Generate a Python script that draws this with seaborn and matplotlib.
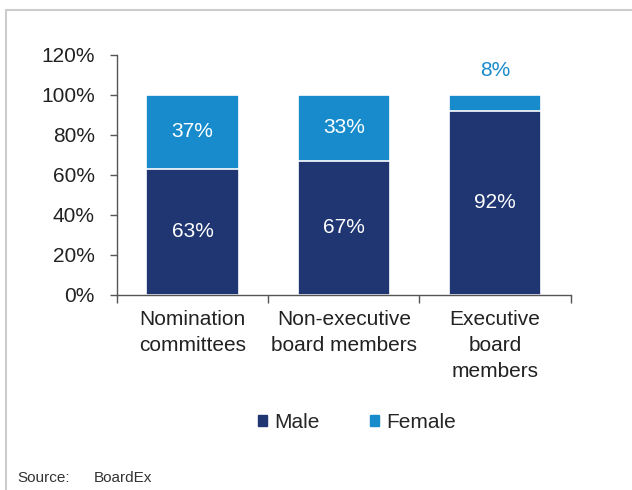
import matplotlib
matplotlib.use("Agg")
import matplotlib.pyplot as plt
import pandas as pd
import seaborn as sns
from matplotlib.lines import Line2D
from matplotlib.patches import Patch
from matplotlib.ticker import FixedLocator, PercentFormatter

categories = ["Nomination\ncommittees", "Non-executive\nboard members", "Executive\nboard\nmembers"]
male = [63, 67, 92]
female = [37, 33, 8]

MALE_COLOR = "#1f3673"
FEMALE_COLOR = "#178bcb"


def plot():
    sns.set_style("white")
    plt.rcParams["font.family"] = ["Liberation Sans", "DejaVu Sans"]

    df = pd.DataFrame({"category": categories, "Male": male, "Female": female})
    df["total"] = df["Male"] + df["Female"]

    fig = plt.figure(figsize=(6.32, 4.90), dpi=100)
    ax = fig.add_axes([0.185, 0.398, 0.718, 0.49])

    sns.barplot(data=df, x="category", y="total", color=FEMALE_COLOR, width=0.61,
                edgecolor="white", linewidth=1.2, saturation=1, ax=ax)
    sns.barplot(data=df, x="category", y="Male", color=MALE_COLOR, width=0.61,
                edgecolor="white", linewidth=1.2, saturation=1, ax=ax)

    ax.set_ylim(0, 120)
    ax.set_xlim(-0.5, 2.5)
    ax.set_yticks(range(0, 121, 20))
    ax.yaxis.set_major_formatter(PercentFormatter(decimals=0))
    ax.set_xlabel("")
    ax.set_ylabel("")

    # labels
    for i, (m, f) in enumerate(zip(male, female)):
        ax.text(i, m / 2, f"{m}%", ha="center", va="center", color="white", fontsize=15)
        if f >= 15:
            ax.text(i, m + f / 2, f"{f}%", ha="center", va="center", color="white", fontsize=15)
        else:
            ax.text(i, m + f + 12, f"{f}%", ha="center", va="center", color=FEMALE_COLOR, fontsize=15)

    sns.despine(ax=ax)
    for s in ["left", "bottom"]:
        ax.spines[s].set_color("#555555")
        ax.spines[s].set_linewidth(1)

    ax.tick_params(axis="y", left=True, length=5, width=1, color="#555555",
                   labelsize=15, pad=11, labelcolor="#222222")
    ax.xaxis.set_minor_locator(FixedLocator([-0.5, 0.5, 1.5, 2.5]))
    ax.tick_params(axis="x", which="major", length=0, labelsize=15, pad=11,
                   labelcolor="#222222")
    ax.tick_params(axis="x", which="minor", bottom=True, length=6, width=1, color="#555555")
    for lab in ax.get_xticklabels():
        lab.set_linespacing(1.45)
        lab.set_va("top")

    handles = [Patch(color=MALE_COLOR), Patch(color=FEMALE_COLOR)]
    fig.legend(handles, ["Male", "Female"], loc="center", bbox_to_anchor=(0.565, 0.138),
               ncol=2, frameon=False, fontsize=15, handlelength=0.42, handleheight=0.42,
               handletextpad=0.35, columnspacing=2.4)

    fig.text(0.028, 0.024, "Source:", fontsize=11, color="#333333", va="center")
    fig.text(0.148, 0.024, "BoardEx", fontsize=11, color="#333333", va="center")

    # panel frame
    fig.add_artist(Line2D([0.0095, 0.0095], [0, 0.98], transform=fig.transFigure,
                          color="#cccccc", linewidth=1.5))
    fig.add_artist(Line2D([0.0095, 1], [0.98, 0.98], transform=fig.transFigure,
                          color="#cccccc", linewidth=1.5))

    fig.savefig("out.png", dpi=100)


if __name__ == "__main__":
    plot()
